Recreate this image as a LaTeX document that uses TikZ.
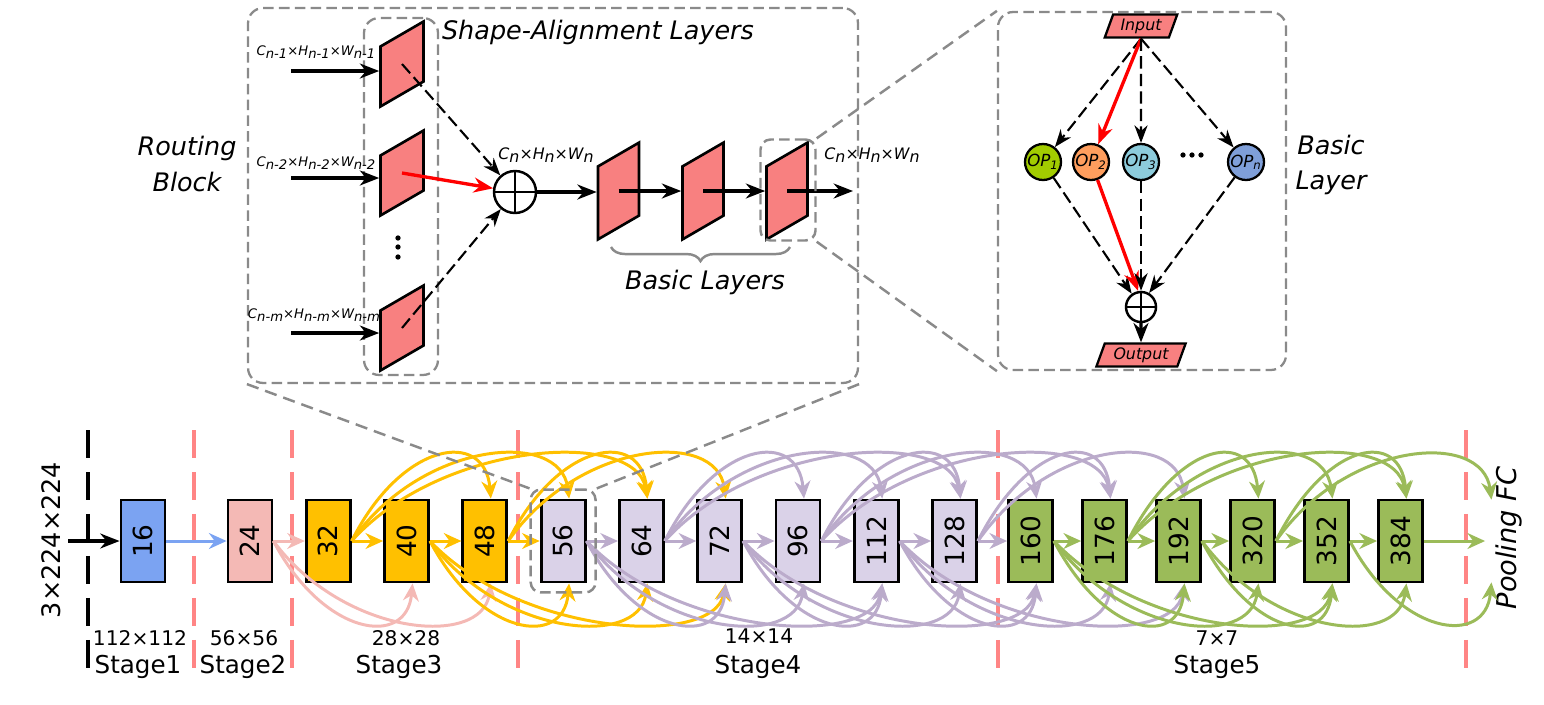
\documentclass[tikz,border=0pt]{standalone}
\usepackage{fontspec}
\setmainfont{DejaVu Sans}
\usepackage{graphicx}
\usetikzlibrary{positioning,arrows.meta,shapes.geometric,fit,decorations.pathreplacing}

\definecolor{layerred}{HTML}{F88080}
\definecolor{stageblue}{HTML}{7BA3F2}
\definecolor{stagepink}{HTML}{F4B9B5}
\definecolor{stageyellow}{HTML}{FFC000}
\definecolor{stagepurple}{HTML}{DAD2E8}
\definecolor{arcpurple}{HTML}{BBABCB}
\definecolor{stagegreen}{HTML}{9BBB59}
\definecolor{sepred}{HTML}{FF8585}
\definecolor{boxgray}{HTML}{8A8A8A}
\definecolor{opgreen}{HTML}{A2CC00}
\definecolor{oporange}{HTML}{FF9E5E}
\definecolor{opcyan}{HTML}{8DCCDC}
\definecolor{opblue}{HTML}{7F9FD9}

\newcommand{\lowidx}[1]{\raisebox{-0.35ex}{#1}}
\newcommand{\bigfont}{\fontsize{14.5}{20}\selectfont}

\tikzset{
  bigbox/.style={draw=boxgray, line width=1.3pt, dash pattern=on 6pt off 3pt, rounded corners=0.3cm},
  zoombox/.style={draw=boxgray, line width=1.4pt, dash pattern=on 6pt off 3pt, rounded corners=0.2cm},
  zoomline/.style={draw=boxgray, line width=1.4pt, dash pattern=on 7pt off 4pt},
  lyr/.style={draw, fill=layerred, line width=1.5pt, yslant=0.58, inner sep=0pt},
  plus/.style={draw, circle, line width=1.4pt, inner sep=0pt, fill=white,
    path picture={\draw[line width=1.4pt] (path picture bounding box.north) -- (path picture bounding box.south)
      (path picture bounding box.west) -- (path picture bounding box.east);}},
  io/.style={trapezium, trapezium left angle=70, trapezium right angle=110, draw, fill=layerred,
    line width=1.3pt, inner sep=1pt, minimum height=0.46cm, font=\fontsize{9}{9}\selectfont\itshape},
  opnode/.style={circle, draw, line width=1.3pt, minimum size=0.72cm, inner sep=0pt,
    font=\fontsize{9.5}{9.5}\selectfont\itshape},
  flow/.style={-{Stealth[length=11pt,width=8.5pt]}, line width=1.8pt},
  dflow/.style={-{Stealth[length=10pt,width=7.5pt]}, line width=1.2pt, dash pattern=on 7pt off 3pt},
  rflow/.style={-{Stealth[length=11pt,width=8.5pt]}, line width=1.9pt, red},
  blk/.style={draw, line width=1.6pt, minimum width=0.88cm, minimum height=1.64cm, inner sep=0pt,
    font=\fontsize{15}{15}\selectfont},
  straight/.style={-{Stealth[length=10pt,width=9pt]}, line width=1.7pt},
  arc/.style={-{Stealth[length=10pt,width=9pt]}, line width=1.7pt},
  sep/.style={line width=1.8pt, dash pattern=on 0.56cm off 0.28cm},
  lbl/.style={font=\bigfont\itshape},
  dimlbl/.style={font=\fontsize{7.5}{8}\selectfont\itshape, inner sep=0pt},
}

\begin{document}
\begin{tikzpicture}[x=0.02cm, y=-0.02cm, node distance=1.566cm]
\useasboundingbox (0,0) rectangle (1544,704);

% routing block
\node[bigbox, minimum width=12.2cm, minimum height=7.5cm] (rb) at (553,195.5) {};
\node[bigbox, minimum width=1.48cm, minimum height=7.14cm] (sa) at (401,196.5) {};
\node[lbl] (satxt) at (598,32) {Shape-Alignment Layers};
\node[lbl, align=center] (rbtxt) at (187,164) {Routing\\Block};

\node[lyr, minimum width=0.86cm, minimum height=1.2cm] (a1) at (402,64) {};
\node[lyr, minimum width=0.86cm, minimum height=1.2cm] (a2) at (402,173) {};
\node[lyr, minimum width=0.86cm, minimum height=1.2cm] (a3) at (402,328) {};
\foreach \dy in {238,247,257}
  \fill (398,\dy) circle (1.5pt);

\coordinate (i1) at (291,71);
\coordinate (i2) at (291,178);
\coordinate (i3) at (291,333);
\draw[flow] (i1) -- (i1 -| a1.west);
\draw[flow] (i2) -- (i2 -| a2.west);
\draw[flow] (i3) -- (i3 -| a3.west);
\node[dimlbl] (d1) at (316,52) {C\lowidx{n-1}×H\lowidx{n-1}×W\lowidx{n-1}};
\node[dimlbl] (d2) at (316,163) {C\lowidx{n-2}×H\lowidx{n-2}×W\lowidx{n-2}};
\node[dimlbl] (d3) at (314,315) {C\lowidx{n-m}×H\lowidx{n-m}×W\lowidx{n-m}};

\node[plus, minimum size=0.84cm] (sum) at (515,192) {};
\draw[dflow] (a1.center) -- (sum);
\draw[rflow] (a2.center) -- (sum);
\draw[dflow] (a3.center) -- (sum);
\node[font=\fontsize{9}{9}\selectfont\itshape] (cn1) at (546,155) {C\lowidx{n}×H\lowidx{n}×W\lowidx{n}};

\node[lyr, minimum width=0.82cm, minimum height=1.46cm] (b1) at (618.5,191) {};
\node[lyr, minimum width=0.82cm, minimum height=1.46cm] (b2) at (703,191) {};
\node[lyr, minimum width=0.82cm, minimum height=1.46cm] (b3) at (787,191) {};
\coordinate (bout) at (853,191);
\draw[flow] (sum) -- (sum -| b1.west);
\draw[flow] (b1.center) -- (b1.center -| b2.west);
\draw[flow] (b2.center) -- (b2.center -| b3.west);
\draw[flow] (b3.center) -- (bout);
\node[font=\fontsize{9}{9}\selectfont\itshape] (cn2) at (872,155) {C\lowidx{n}×H\lowidx{n}×W\lowidx{n}};

\coordinate (brr) at (790,247);
\coordinate (brl) at (611,247);
\draw[boxgray, line width=1.4pt, decorate, decoration={brace, amplitude=8pt}] (brr) -- (brl);
\node[lbl] (bltxt) at (705,282) {Basic Layers};
\node[zoombox, minimum width=1.1cm, minimum height=2.02cm] (zb) at (788,190) {};

% basic layer
\node[bigbox, minimum width=5.76cm, minimum height=7.16cm] (bl) at (1142,191) {};
\draw[zoomline] (zb.north east) -- (bl.north west);
\draw[zoomline] (zb.south east) -- (bl.south west);
\node[lbl, align=center] (bltitle) at (1331,165) {Basic\\Layer};

\node[io] (inp) at (1141,26) {Input};
\node[opnode, fill=opgreen] (op1) at (1043,162) {OP\textsubscript{1}};
\node[opnode, fill=oporange] (op2) at (1091,162) {OP\textsubscript{2}};
\node[opnode, fill=opcyan] (op3) at (1141,162) {OP\textsubscript{3}};
\foreach \dx in {1183,1192,1201}
  \fill (\dx,155) circle (1.5pt);
\node[opnode, fill=opblue] (opn) at (1246,162) {OP\textsubscript{n}};
\node[plus, minimum size=0.6cm] (sum2) at (1141,307) {};
\node[io] (outp) at (1141,355) {Output};

\draw[dflow] (inp.south) -- (op1);
\draw[rflow] (inp.south) -- (op2);
\draw[dflow] (inp.south) -- (op3);
\draw[dflow] (inp.south) -- (opn);
\draw[dflow] (op1) -- (sum2.125);
\draw[rflow] (op2) -- (sum2.100);
\draw[dflow] (op3) -- (sum2.north);
\draw[dflow] (opn) -- (sum2.60);
\draw[flow] (sum2) -- (outp);

% stages
\draw[sep, black] (88,430) -- (88,675);
\foreach \xs in {194,292,518,998,1466}
  \draw[sep, sepred] (\xs,430) -- (\xs,675);

\node[blk, fill=stageblue] (n0) at (143,541) {\rotatebox{90}{16}};
\node[blk, fill=stagepink, right of=n0, node distance=2.14cm] (n1) {\rotatebox{90}{24}};
\node[blk, fill=stageyellow, right of=n1] (n2) {\rotatebox{90}{32}};
\node[blk, fill=stageyellow, right of=n2] (n3) {\rotatebox{90}{40}};
\node[blk, fill=stageyellow, right of=n3] (n4) {\rotatebox{90}{48}};
\node[blk, fill=stagepurple, right of=n4] (n5) {\rotatebox{90}{56}};
\node[blk, fill=stagepurple, right of=n5] (n6) {\rotatebox{90}{64}};
\node[blk, fill=stagepurple, right of=n6] (n7) {\rotatebox{90}{72}};
\node[blk, fill=stagepurple, right of=n7] (n8) {\rotatebox{90}{96}};
\node[blk, fill=stagepurple, right of=n8] (n9) {\rotatebox{90}{112}};
\node[blk, fill=stagepurple, right of=n9] (n10) {\rotatebox{90}{128}};
\node[blk, fill=stagegreen, right of=n10, node distance=1.52cm] (n11) {\rotatebox{90}{160}};
\node[blk, fill=stagegreen, right of=n11, node distance=1.48cm] (n12) {\rotatebox{90}{176}};
\node[blk, fill=stagegreen, right of=n12, node distance=1.48cm] (n13) {\rotatebox{90}{192}};
\node[blk, fill=stagegreen, right of=n13, node distance=1.48cm] (n14) {\rotatebox{90}{320}};
\node[blk, fill=stagegreen, right of=n14, node distance=1.48cm] (n15) {\rotatebox{90}{352}};
\node[blk, fill=stagegreen, right of=n15, node distance=1.48cm] (n16) {\rotatebox{90}{384}};
\node[inner sep=0pt, minimum width=0pt, minimum height=1.64cm, right of=n16, node distance=1.7cm] (n17) {};

\coordinate (img) at (68,541);
\draw[flow] (img) -- (n0);
\node[rotate=90, font=\bigfont] (imgtxt) at (51,540) {3×224×224};
\node[rotate=90, lbl, font=\fontsize{15.5}{16}\selectfont\itshape] (pool) at (1509,538) {Pooling FC};

\foreach \a/\b/\col in {0/1/stageblue, 1/2/stagepink, 2/3/stageyellow, 3/4/stageyellow, 4/5/stageyellow,
    5/6/arcpurple, 6/7/arcpurple, 7/8/arcpurple, 8/9/arcpurple, 9/10/arcpurple, 10/11/arcpurple,
    11/12/stagegreen, 12/13/stagegreen, 13/14/stagegreen, 14/15/stagegreen, 15/16/stagegreen, 16/17/stagegreen}
  \draw[straight, \col] (n\a) -- (n\b);

% routing arcs
\foreach \s/\t/\col in {2/4/stageyellow, 2/5/stageyellow, 2/6/stageyellow, 4/6/stageyellow, 4/7/stageyellow,
    6/8/arcpurple, 6/9/arcpurple, 6/10/arcpurple, 8/10/arcpurple, 8/11/arcpurple, 8/12/arcpurple,
    10/12/arcpurple, 10/13/arcpurple, 12/14/stagegreen, 12/15/stagegreen, 12/16/stagegreen,
    14/16/stagegreen, 14/17/stagegreen}
  \draw[arc, \col] (n\s.east) .. controls +({(\t-\s)*20+10},-100) and +({-(\t-\s)*3},-70) .. ([xshift=0.12cm]n\t.north);
\foreach \s/\t/\col in {1/3/stagepink, 1/4/stagepink, 3/5/stageyellow, 3/6/stageyellow, 3/7/stageyellow,
    5/7/arcpurple, 5/8/arcpurple, 5/9/arcpurple, 7/9/arcpurple, 7/10/arcpurple, 7/11/arcpurple,
    9/11/arcpurple, 9/12/arcpurple, 9/13/arcpurple, 11/13/stagegreen, 11/14/stagegreen, 11/15/stagegreen,
    13/15/stagegreen, 13/16/stagegreen, 15/17/stagegreen}
  \draw[arc, \col] (n\s.east) .. controls +({(\t-\s)*20+10},95) and +({-(\t-\s)*3},65) .. ([xshift=0.12cm]n\t.south);

\node[zoombox, fit=(n5), inner sep=0.18cm] (zb56) {};
\draw[zoomline] (rb.south west) -- (zb56.north west);
\draw[zoomline] (rb.south east) -- (zb56.north east);

\node[font=\fontsize{11.5}{12}\selectfont] (r1) at (140,638) {112×112};
\node[font=\fontsize{14}{14}\selectfont] (s1) at (138,667) {Stage1};
\node[font=\fontsize{11.5}{12}\selectfont] (r2) at (244,638) {56×56};
\node[font=\fontsize{14}{14}\selectfont] (s2) at (243,667) {Stage2};
\node[font=\fontsize{11.5}{12}\selectfont] (r3) at (406,638) {28×28};
\node[font=\fontsize{14}{14}\selectfont] (s3) at (399,667) {Stage3};
\node[font=\fontsize{11.5}{12}\selectfont] (r4) at (759,636) {14×14};
\node[font=\fontsize{14}{14}\selectfont] (s4) at (758,667) {Stage4};
\node[font=\fontsize{11.5}{12}\selectfont] (r5) at (1217,638) {7×7};
\node[font=\fontsize{14}{14}\selectfont] (s5) at (1217,667) {Stage5};
\end{tikzpicture}
\end{document}
